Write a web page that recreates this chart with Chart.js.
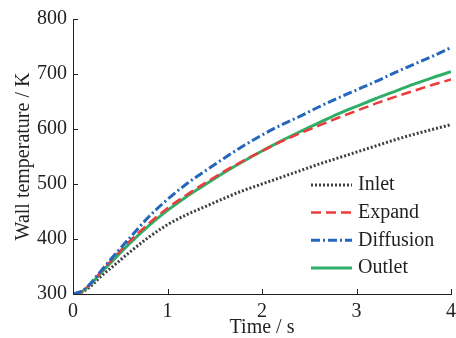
<!DOCTYPE html>
<html>
<head>
<meta charset="utf-8">
<script src="https://cdn.jsdelivr.net/npm/chart.js@4"></script>
<style>
  html, body { margin: 0; padding: 0; background: #fff; }
  #wrap { width: 456px; height: 338px; }
</style>
</head>
<body>
<div id="wrap"><canvas id="c" width="456" height="338"></canvas></div>
<script>
// ---- data ----
const times = [0, 0.1, 0.2, 0.3, 0.4, 0.6, 0.8, 1.0, 1.2, 1.4, 1.6, 1.8, 2.0, 2.2, 2.4, 2.6, 2.8, 3.0, 3.2, 3.4, 3.6, 3.8, 4.0];
const inlet     = [300, 304, 316, 333, 347, 376, 403, 426, 444, 459, 474, 488, 500, 512, 524, 536, 547, 558, 569, 580, 590, 599, 608];
const expand    = [300, 305, 321, 341, 360, 396, 428, 456, 480, 502, 523, 542, 560, 577, 592, 606, 620, 633, 646, 658, 669, 680, 690];
const diffusion = [300, 306, 322, 343, 363, 402, 440, 472, 500, 524, 547, 569, 589, 607, 623, 640, 656, 671, 686, 702, 717, 732, 748];
const outlet    = [300, 305, 320, 339, 357, 392, 424, 452, 477, 499, 521, 541, 560, 578, 595, 611, 627, 641, 655, 668, 681, 693, 704];
const seriesNames = ["Inlet", "Expand", "Diffusion", "Outlet"];
const xTicks = [0, 1, 2, 3, 4];
const yTicks = [300, 400, 500, 600, 700, 800];

const FONT = "'Liberation Serif', 'Times New Roman', serif";
const TXT = "#231f20";

function pts(arr) { return arr.map((v, i) => ({ x: times[i], y: v })); }

const styles = [
  { color: "#3f3f3f", width: 3,   dash: [2, 2] },
  { color: "#ec3b3b", width: 2.5, dash: [10, 5] },
  { color: "#2366bd", width: 3,   dash: [9, 3, 2, 3] },
  { color: "#2fae66", width: 3,   dash: [] }
];
const values = [inlet, expand, diffusion, outlet];

const datasets = values.map((arr, i) => ({
  label: seriesNames[i],
  data: pts(arr),
  borderColor: styles[i].color,
  backgroundColor: styles[i].color,
  borderWidth: styles[i].width,
  borderDash: styles[i].dash,
  pointRadius: 0,
  cubicInterpolationMode: 'monotone',
  fill: false
}));
datasets[0].order = 4; datasets[3].order = 3; datasets[1].order = 2; datasets[2].order = 1;

const innerTicks = {
  id: 'innerTicks',
  afterDraw(chart) {
    const ctx = chart.ctx;
    const xs = chart.scales.x, ys = chart.scales.y;
    const a = chart.chartArea;
    ctx.save();
    ctx.strokeStyle = TXT;
    ctx.lineWidth = 1;
    ctx.setLineDash([]);
    ctx.beginPath();
    xTicks.forEach(t => {
      const px = Math.round(xs.getPixelForValue(t)) + 0.5;
      ctx.moveTo(px, a.bottom); ctx.lineTo(px, a.bottom - 5);
    });
    yTicks.forEach(t => {
      const py = Math.round(ys.getPixelForValue(t)) + 0.5;
      ctx.moveTo(a.left, py); ctx.lineTo(a.left + 5, py);
    });
    ctx.stroke();
    ctx.restore();
  }
};

const lineLegend = {
  id: 'lineLegend',
  afterDraw(chart) {
    const ctx = chart.ctx;
    const a = chart.chartArea;
    const x0 = a.right - 140, x1 = a.right - 99, tx = a.right - 93;
    const n = chart.data.datasets.length;
    ctx.save();
    chart.data.datasets.forEach((ds, i) => {
      const y = a.bottom - 26 - (n - 1 - i) * 27.7;
      ctx.strokeStyle = ds.borderColor;
      ctx.lineWidth = ds.borderWidth;
      ctx.setLineDash(ds.borderDash || []);
      ctx.beginPath();
      ctx.moveTo(x0, y); ctx.lineTo(x1, y);
      ctx.stroke();
      ctx.setLineDash([]);
      ctx.fillStyle = TXT;
      ctx.font = "20px " + FONT;
      ctx.textBaseline = 'middle';
      ctx.textAlign = 'left';
      ctx.fillText(ds.label, tx, y);
    });
    ctx.restore();
  }
};

new Chart(document.getElementById('c'), {
  type: 'line',
  data: { datasets },
  options: {
    responsive: false,
    animation: false,
    devicePixelRatio: 1,
    layout: { padding: { top: 19, right: 5, left: 0, bottom: 0 } },
    plugins: { legend: { display: false }, tooltip: { enabled: false } },
    scales: {
      x: {
        type: 'linear', min: 0, max: 4,
        afterBuildTicks(s) { s.ticks = xTicks.map(v => ({ value: v })); },
        afterFit(s) { s.height = 44; s.paddingRight = 0; s.paddingLeft = 0; },
        ticks: { font: { family: FONT, size: 20 }, color: TXT, padding: 6, maxRotation: 0 },
        grid: { display: true, drawOnChartArea: false, drawTicks: false },
        border: { display: true, color: TXT, width: 1 },
        title: { display: true, text: 'Time / s', font: { family: FONT, size: 20, lineHeight: 1 }, color: TXT, padding: { top: 0, bottom: 0 } }
      },
      y: {
        type: 'linear', min: 300, max: 800,
        afterBuildTicks(s) { s.ticks = yTicks.map(v => ({ value: v })); },
        afterFit(s) { s.width = 73; },
        ticks: { font: { family: FONT, size: 20 }, color: TXT, padding: 6 },
        grid: { display: true, drawOnChartArea: false, drawTicks: false },
        border: { display: true, color: TXT, width: 1 },
        title: { display: true, text: 'Wall temperature / K', font: { family: FONT, size: 20 }, color: TXT, padding: { top: 12, bottom: 0 } }
      }
    }
  },
  plugins: [innerTicks, lineLegend]
});
</script>
</body>
</html>
